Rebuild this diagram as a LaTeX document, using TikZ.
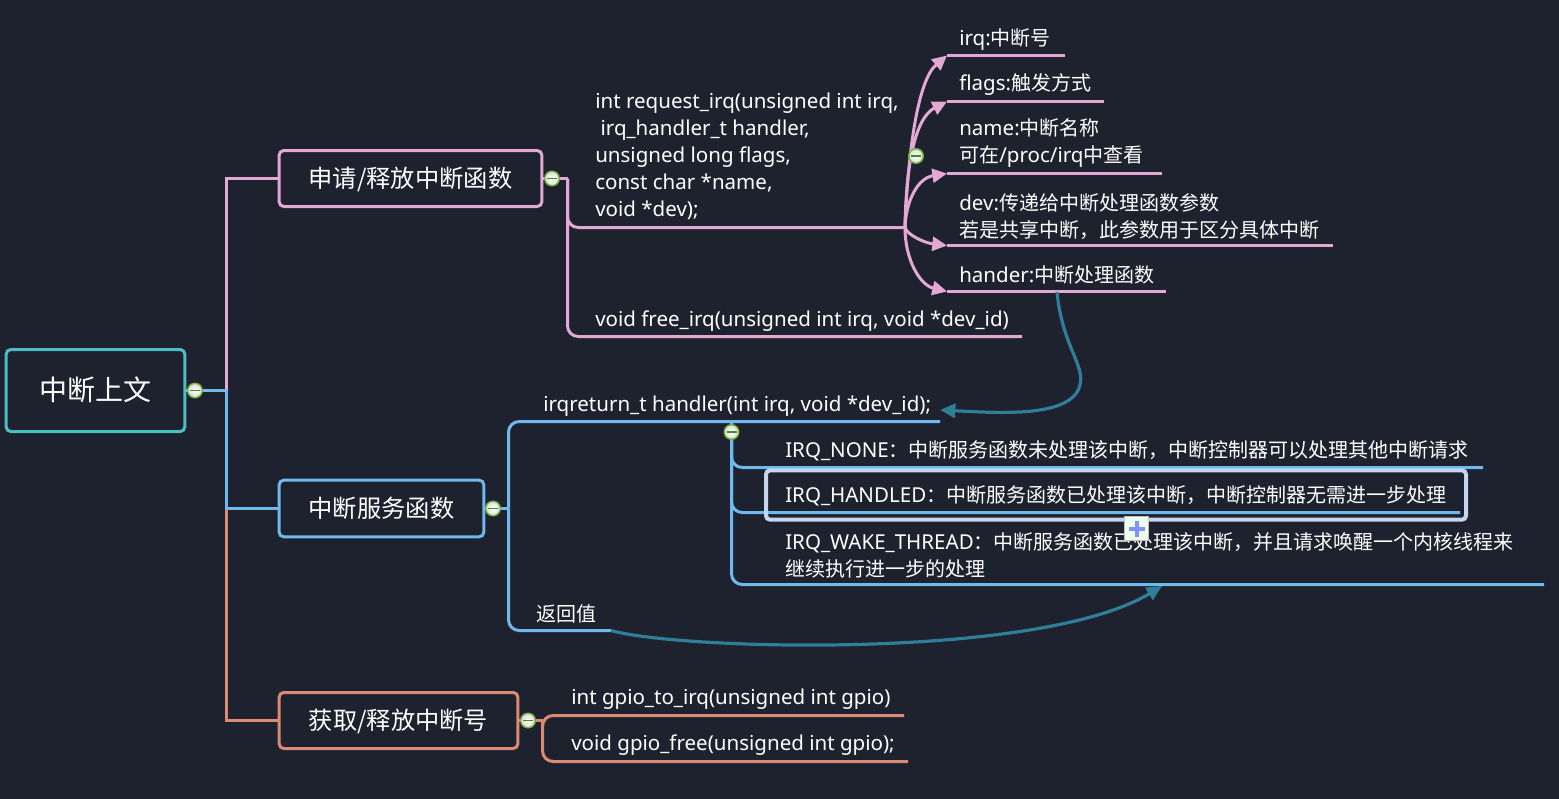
\documentclass[tikz,border=0pt]{standalone}
\usepackage{fontspec}
\setmainfont{Noto Sans}
\newfontfamily\cjk[Scale=0.974]{Noto Sans CJK SC}
\newfontfamily\cjkbox{Noto Sans CJK SC}
\usetikzlibrary{arrows.meta,calc}
\definecolor{bgc}{HTML}{1D222E}
\definecolor{teal}{HTML}{4DBDC4}
\definecolor{pinkc}{HTML}{E3A8D3}
\definecolor{bluec}{HTML}{6FB9EC}
\definecolor{orangec}{HTML}{DC8A73}
\definecolor{linkc}{HTML}{2F7F9A}
\definecolor{hl}{HTML}{C5D5F0}
\definecolor{ringc}{HTML}{74B43A}
\definecolor{minusc}{HTML}{3F8F1F}
\definecolor{plusc}{HTML}{7F92FF}
\tikzset{
  rootbox/.style={draw=teal,line width=2.25pt,rounded corners=3.5pt,text=white,inner sep=0pt,text height=15.5pt,text depth=0pt,font=\cjkbox\fontsize{21}{25}\selectfont},
  topicbox/.style={line width=2.25pt,rounded corners=3.5pt,text=white,inner sep=0pt,text height=14pt,text depth=0pt,font=\cjkbox\fontsize{18.2}{22}\selectfont},
  label/.style={anchor=west,inner sep=0pt,yshift=-1.3pt,text=white,align=left,font=\fontsize{15.4}{20.25}\selectfont},
  straight/.style={line width=2.25pt},
  branch/.style={line width=2.25pt,rounded corners=8pt},
  fan/.style={line width=2.25pt,pinkc,-{Triangle[length=11pt,width=10.5pt]}},
  rel/.style={line width=2.4pt,linkc,-{Triangle[length=11.5pt,width=10.5pt]}},
  collapse/.pic={
    \fill[ringc] (0,0) circle (8);
    \shade[inner color=white,outer color=black!12] (0,0) circle (6.4);
    \draw[minusc,line width=0.9pt] (-5,0) -- (5,0);
  }
}
\begin{document}
\begin{tikzpicture}[x=0.75pt,y=-0.75pt]
\useasboundingbox (0,0) rectangle (1559,799);
\fill[bgc] (0,0) rectangle (1559,799);

% boxes
\node[rootbox,minimum width=134pt,minimum height=61.5pt] (root) at (95.5,390.5) {中断上文};
\node[topicbox,draw=pinkc,minimum width=197pt,minimum height=42pt] (reqbox) at (410.5,178.5) {申请/释放中断函数};
\node[topicbox,draw=bluec,minimum width=153.5pt,minimum height=42.5pt] (isrbox) at (381.5,508.5) {中断服务函数};
\node[topicbox,draw=orangec,minimum width=179pt,minimum height=42pt] (gpiobox) at (398.5,720.5) {获取/释放中断号};

% junctions
\coordinate (rootj) at (226.5,390.5);
\coordinate (reqj) at (567.5,178.5);
\coordinate (isrj) at (508.5,508.5);
\coordinate (gpioj) at (542.5,720.5);
\coordinate (fanj) at (905,227.5);
\coordinate (retj) at (731.5,421.5);

% underline ends
\coordinate (reqend) at (905,227.5);
\coordinate (freeend) at (1022,336.5);
\coordinate (irqs) at (947,55.5);   \coordinate (irqe) at (1065,55.5);
\coordinate (flags) at (947,101.5); \coordinate (flage) at (1104,101.5);
\coordinate (names) at (947,173.5); \coordinate (namee) at (1162,173.5);
\coordinate (devs) at (947,245.5);  \coordinate (deve) at (1333,245.5);
\coordinate (hans) at (947,291.5);  \coordinate (hane) at (1166,291.5);
\coordinate (hndend) at (940,421.5);
\coordinate (retend) at (611,630.5);
\coordinate (noneend) at (1483,467.5);
\coordinate (handend) at (1460,512.5);
\coordinate (wakeend) at (1544,584.5);
\coordinate (g1end) at (904,715.5);
\coordinate (g2end) at (908,761.5);

% main branches
\draw[straight,pinkc] (rootj) |- (reqbox.west);
\draw[straight,orangec] ($(rootj)+(0,118)$) |- (gpiobox.west);
\draw[straight,bluec] (rootj) |- (isrbox.west);
\draw[straight,bluec] (root.east) -- (rootj);

% request branch
\draw[straight,pinkc] (reqbox.east) -- (reqj);
\draw[branch,pinkc] (reqj) |- (reqend);
\draw[branch,pinkc] (reqj) |- (freeend);

% fan
\draw[fan] (fanj) .. controls (908,150) and (918,80) .. (irqs);
\draw[fan] (fanj) .. controls (906,165) and (915,118) .. (flags);
\draw[fan] (fanj) .. controls (906,200) and (918,178) .. (names);
\draw[fan] (fanj) .. controls (907,235) and (925,243) .. (devs);
\draw[fan] (fanj) .. controls (905,260) and (920,285) .. (hans);
\draw[straight,pinkc] (irqs) -- (irqe);
\draw[straight,pinkc] (flags) -- (flage);
\draw[straight,pinkc] (names) -- (namee);
\draw[straight,pinkc] (devs) -- (deve);
\draw[straight,pinkc] (hans) -- (hane);

% isr branch
\draw[straight,bluec] (isrbox.east) -- (isrj);
\draw[branch,bluec] (isrj) |- (hndend);
\draw[branch,bluec] (isrj) |- (retend);
\draw[branch,bluec] (retj) |- (noneend);
\draw[branch,bluec] (retj) |- (handend);
\draw[branch,bluec] (retj) |- (wakeend);

% gpio branch
\draw[straight,orangec] (gpiobox.east) -- (gpioj);
\draw[branch,orangec] (gpioj) |- (g1end);
\draw[branch,orangec] (gpioj) |- (g2end);

% labels
\node[label] (reqt) at (595,155) {int request\_irq(unsigned int irq,\\\ irq\_handler\_t handler,\\unsigned long flags,\\const char *name,\\void *dev);};
\node[label] (freet) at (595,319) {void free\_irq(unsigned int irq, void *dev\_id)};
\node[label] (irqt) at (959,38) {irq:{\cjk 中断号}};
\node[label] (flagt) at (959,83) {flags:{\cjk 触发方式}};
\node[label] (namet) at (959,141.5) {name:{\cjk 中断名称}\\{\cjk 可在}/proc/irq{\cjk 中查看}};
\node[label] (devt) at (959,214.5) {dev:{\cjk 传递给中断处理函数参数}\\{\cjk 若是共享中断，此参数用于区分具体中断}};
\node[label] (hant) at (959,273) {hander:{\cjk 中断处理函数}};
\node[label] (hndt) at (543,404) {irqreturn\_t handler(int irq, void *dev\_id);};
\node[label] (rett) at (536,612) {\cjk 返回值};
\node[label] (nonet) at (785,449) {IRQ\_NONE{\cjk ：中断服务函数未处理该中断，中断控制器可以处理其他中断请求}};
\node[label] (handt) at (785,494) {IRQ\_HANDLED{\cjk ：中断服务函数已处理该中断，中断控制器无需进一步处理}};
\node[label] (waket) at (785,553.5) {IRQ\_WAKE\_THREAD{\cjk ：中断服务函数已处理该中断，并且请求唤醒一个内核线程来}\\{\cjk 继续执行进一步的处理}};
\node[label] (g1t) at (571,697) {int gpio\_to\_irq(unsigned int gpio)};
\node[label] (g2t) at (571,743) {void gpio\_free(unsigned int gpio);};

% relations
\coordinate (hndtip) at (940,410);
\coordinate (wakepoint) at (1162,586);
\draw[rel] (1057,292) .. controls (1062,345) and (1085,365) .. (1080,385) .. controls (1072,418) and (1000,413) .. (hndtip);
\draw[rel] (retend) .. controls (680,650) and (1040,660) .. (wakepoint);

% highlight
\node[draw=hl,line width=3pt,rounded corners=3pt,minimum width=525pt,minimum height=37pt,inner sep=0pt] (hlbox) at (1116,495) {};
\node[draw=black!25,fill=black!18!green!6!white,minimum size=18pt,inner sep=0pt] (plus) at (1136.5,528.5) {};
\draw[plusc,line width=3pt] ($(plus.center)+(-8,0)$) -- ($(plus.center)+(8,0)$);
\draw[plusc,line width=3pt] ($(plus.center)+(0,-8)$) -- ($(plus.center)+(0,8)$);

% collapse markers
\pic at (195,390.5) {collapse};
\pic at (552,178.5) {collapse};
\pic at (916,156) {collapse};
\pic at (493,508.5) {collapse};
\pic at (731.5,432) {collapse};
\pic at (528,720.5) {collapse};
\end{tikzpicture}
\end{document}
